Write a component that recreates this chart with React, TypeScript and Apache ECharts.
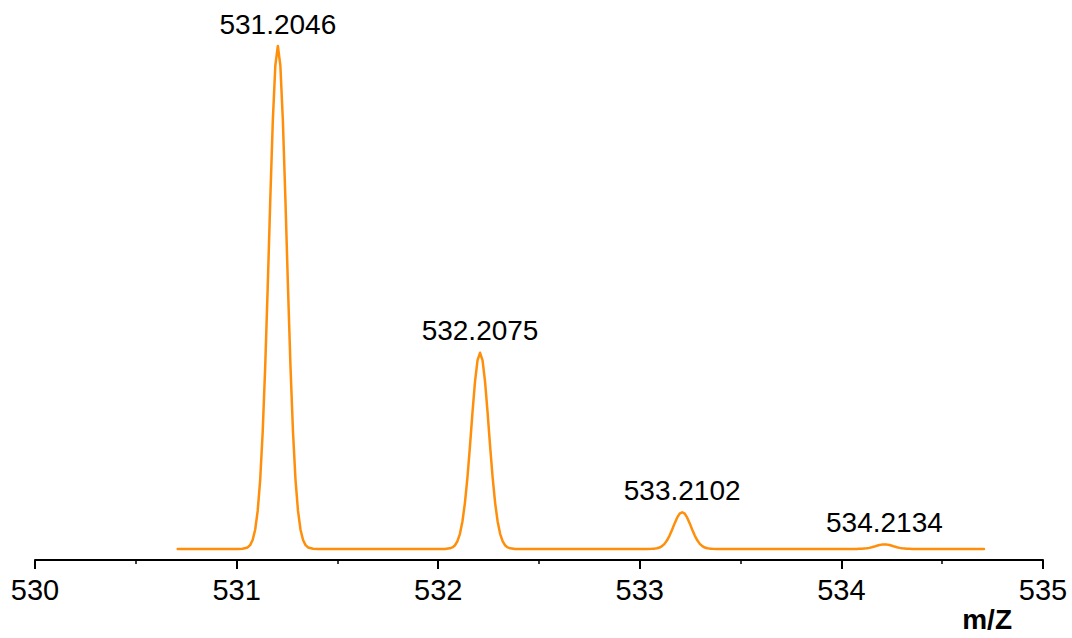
import React, { useEffect, useRef } from "react";
import * as echarts from "echarts";

// Peak centres and labels (m/Z)
const PEAK_MZ = [531.2046, 532.2075, 533.2102, 534.2134];
const PEAK_LABELS = ["531.2046", "532.2075", "533.2102", "534.2134"];
const PEAK_HEIGHT = [100, 39.0, 7.3, 0.9];

// Sample offsets (Da) from each peak centre at which the profile was read (left half, mirrored)
const HALF_OFFSETS = [
  -0.2, -0.175, -0.15, -0.1375, -0.125, -0.1125, -0.1, -0.0875, -0.075, -0.0625, -0.05, -0.0375,
  -0.025, -0.0125, 0,
];

// Intensity of each (symmetric) peak at the offsets above
const PEAK1 = [0, 0.04, 0.3, 0.76, 1.77, 3.81, 7.56, 13.8, 23.4, 36.5, 52.4, 69.5, 85.1, 96.1, 100];
const PEAK2 = [0, 0.01, 0.12, 0.3, 0.69, 1.49, 2.95, 5.4, 9.12, 14.2, 20.4, 27.1, 33.2, 37.5, 39.0];
const PEAK3 = [0, 0, 0.02, 0.06, 0.13, 0.28, 0.55, 1.01, 1.71, 2.66, 3.83, 5.08, 6.21, 7.01, 7.3];
const PEAK4 = [0, 0, 0, 0.01, 0.02, 0.03, 0.07, 0.12, 0.21, 0.33, 0.47, 0.63, 0.77, 0.86, 0.9];
const PROFILES = [PEAK1, PEAK2, PEAK3, PEAK4];

// Trace start / end
const TRACE_START = 530.708;
const TRACE_END = 534.707;

// Axis
const X_MIN = 530;
const X_MAX = 535;
const X_TICKS = [530, 531, 532, 533, 534, 535];

const FONT = '"Liberation Sans", Arial, Helvetica, sans-serif';
const ORANGE = "#FF8F0A";

function buildTrace(): number[][] {
  const pts: number[][] = [[TRACE_START, 0]];
  PEAK_MZ.forEach((c, i) => {
    const prof = PROFILES[i];
    const n = HALF_OFFSETS.length;
    for (let j = 0; j < n; j++) pts.push([+(c + HALF_OFFSETS[j]).toFixed(5), prof[j]]);
    for (let j = n - 2; j >= 0; j--) pts.push([+(c - HALF_OFFSETS[j]).toFixed(5), prof[j]]);
  });
  pts.push([TRACE_END, 0]);
  return pts;
}

export default function App() {
  const ref = useRef<HTMLDivElement>(null);

  useEffect(() => {
    if (!ref.current) return;
    const chart = echarts.init(ref.current, undefined, { renderer: "svg" });
    chart.setOption({
      animation: false,
      backgroundColor: "#ffffff",
      grid: { left: 35, right: 29, top: 46, bottom: 78, containLabel: false },
      xAxis: {
        type: "value",
        min: X_MIN,
        max: X_MAX,
        interval: 1,
        axisLine: { show: true, onZero: false, lineStyle: { color: "#000", width: 2 } },
        axisTick: { show: true, inside: false, length: 9, lineStyle: { color: "#000", width: 2 } },
        minorTick: { show: true, splitNumber: 2, length: 4, lineStyle: { color: "#000", width: 1.5 } },
        splitLine: { show: false },
        axisLabel: {
          color: "#000",
          fontSize: 29,
          fontFamily: FONT,
          margin: 15,
          formatter: (v: number) => (X_TICKS.includes(v) ? String(v) : ""),
        },
      },
      yAxis: {
        type: "value",
        min: -2.2,
        max: 100,
        show: false,
      },
      graphic: [
        {
          type: "text",
          x: 1012,
          y: 619,
          style: {
            text: "m/Z",
            font: `bold 28px ${FONT}`,
            fill: "#000",
            textAlign: "right",
            textVerticalAlign: "middle",
          },
        },
      ],
      series: [
        {
          type: "line",
          data: buildTrace(),
          showSymbol: false,
          symbol: "none",
          smooth: false,
          clip: false,
          lineStyle: { color: ORANGE, width: 2.5, join: "round", cap: "round" },
        },
        {
          type: "scatter",
          symbolSize: 0,
          silent: true,
          itemStyle: { opacity: 1 },
          data: PEAK_MZ.map((m, i) => ({ name: PEAK_LABELS[i], value: [m, PEAK_HEIGHT[i]] })),
          label: {
            show: true,
            position: "top",
            distance: 8,
            formatter: "{b}",
            color: "#000",
            opacity: 1,
            fontSize: 28,
            fontFamily: FONT,
          },
        },
      ],
    });
    return () => chart.dispose();
  }, []);

  return (
    <div
      ref={ref}
      style={{ position: "fixed", left: 0, top: 0, width: 1072, height: 638, background: "#fff" }}
    />
  );
}
